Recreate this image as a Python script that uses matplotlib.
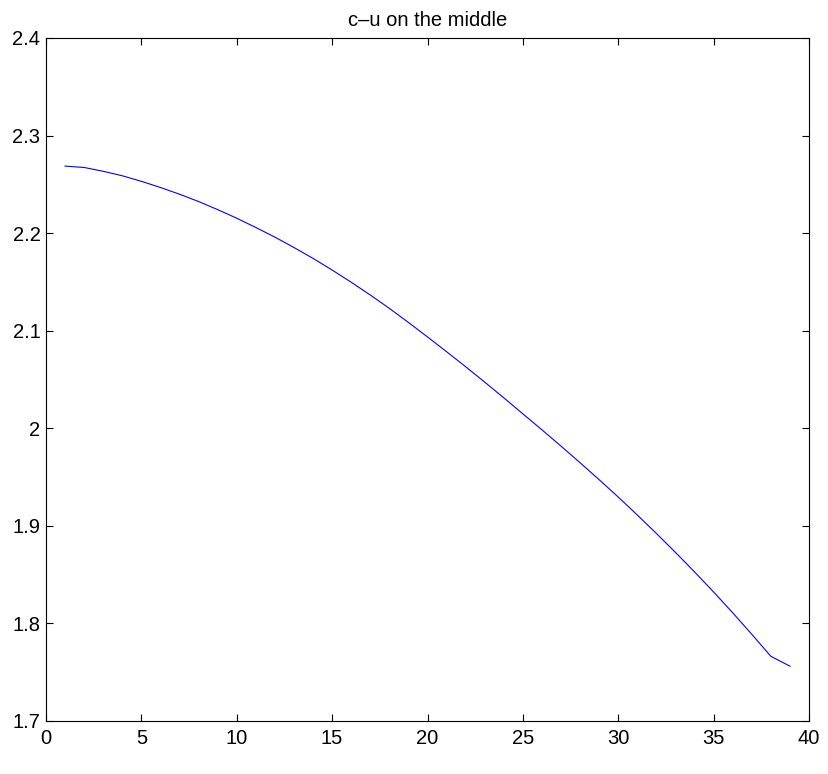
import matplotlib
matplotlib.use("Agg")
import matplotlib.pyplot as plt
from matplotlib.ticker import FormatStrFormatter, MultipleLocator

x_values = list(range(1, 40))
cu_values = [
    2.2687, 2.2673, 2.2634, 2.2588, 2.2531, 2.2468, 2.2399, 2.2324, 2.2241, 2.2153,
    2.2058, 2.1959, 2.1853, 2.1741, 2.1622, 2.1497, 2.1366, 2.1229, 2.1085, 2.0936,
    2.0785, 2.0631, 2.0473, 2.0312, 2.0148, 1.9984, 1.9817, 1.9647, 1.9473, 1.9295,
    1.9111, 1.8922, 1.8728, 1.8528, 1.8322, 1.8109, 1.7889, 1.7663, 1.7562,
]
title_text = "c\u2013u on the middle"

plt.rcParams['font.family'] = ['Liberation Sans', 'DejaVu Sans']

fig = plt.figure(figsize=(8.29, 7.74), dpi=100)
ax = fig.add_axes([46 / 829, 1 - 721 / 774, (809 - 46) / 829, (721 - 38) / 774])

ax.plot(x_values, cu_values, color='#0000ff', linewidth=0.8)

ax.set_xlim(0, 40)
ax.set_ylim(1.7, 2.4)
ax.xaxis.set_major_locator(MultipleLocator(5))
ax.yaxis.set_major_locator(MultipleLocator(0.1))
ax.yaxis.set_major_formatter(FormatStrFormatter('%g'))
ax.xaxis.set_major_formatter(FormatStrFormatter('%g'))

ax.tick_params(direction='in', length=5, width=0.8, top=True, right=True,
               labelsize=14.5, colors='black')
ax.tick_params(axis='y', pad=4)
ax.tick_params(axis='x', pad=6)
for s in ax.spines.values():
    s.set_linewidth(0.8)
    s.set_color('black')

ax.set_title(title_text, fontsize=14.5, pad=9)

fig.savefig('out.png', dpi=100)
